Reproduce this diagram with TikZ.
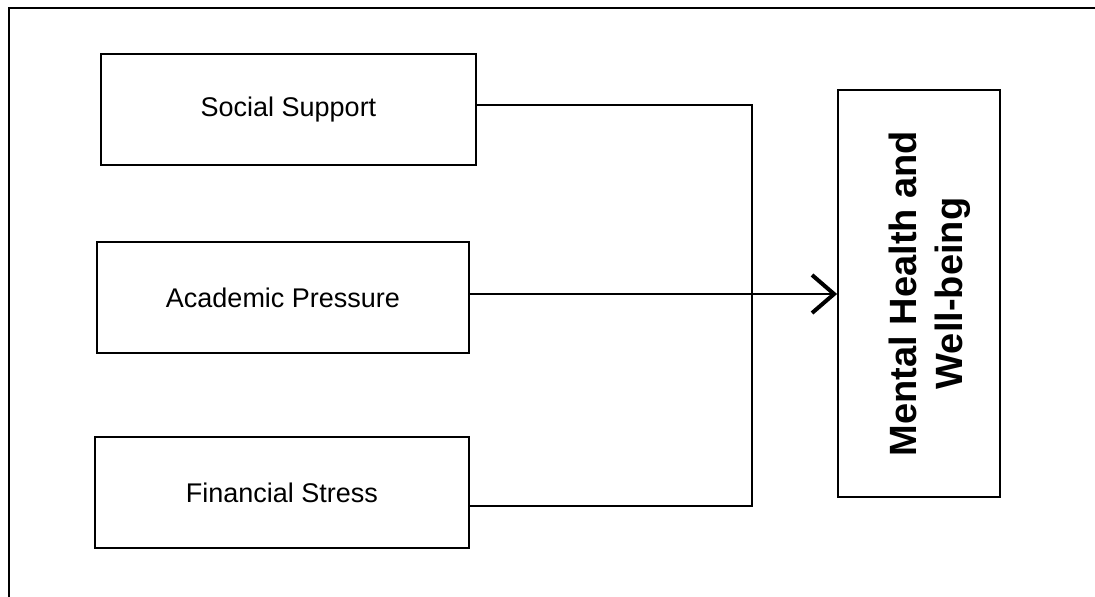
\documentclass[tikz,border=0pt]{standalone}
\usepackage{fontspec}
\setmainfont{Liberation Sans}
\usetikzlibrary{positioning, arrows.meta}
\tikzset{
  x=1pt, y=-1pt, % one unit is one pixel of the layout, y going down
  factor/.style={draw, line width=1.8pt, minimum height=111pt, inner sep=0pt, font=\fontsize{27}{32}\selectfont}, % the three input boxes
  outcome/.style={draw, line width=1.8pt, minimum width=162pt, minimum height=407pt, inner sep=0pt}, % the outcome box
  outcome text/.style={rotate=90, align=center, inner sep=0pt, font=\fontsize{38}{46}\selectfont\bfseries}, % its upright title
  link/.style={line width=1.5pt}, % joining lines
}

\begin{document}
\begin{tikzpicture}
      \useasboundingbox (0,0) rectangle (1095,597);
      % frame of the page
      \draw[line width=2pt] (9,597) -- (9,8) -- (1095,8);

      \node[factor, minimum width=375pt] (ss) at (288.5,109.5) {Social Support};
      \node[factor, minimum width=372pt] (ap) at (283,297.5) {Academic Pressure};
      \node[factor, minimum width=374pt] (fs) at (282,492.5) {Financial Stress};
      \node[outcome] (mh) at (919,293.5) {};
      \node[outcome text] (mhtext) at ([xshift=11pt]mh.center) {Mental Health and\\Well-being};

      \coordinate (top) at (752,105);
      \coordinate (bot) at (752,506);

      \draw[link] (ss.east |- top) -- (top) -- (bot) -- (fs.east |- bot);
      \draw[link, -{Straight Barb[length=22pt, width=38pt, line width=4pt]}]
      (ap.east |- 0,294) -- (mh.west |- 0,294);
    \end{tikzpicture}
\end{document}
